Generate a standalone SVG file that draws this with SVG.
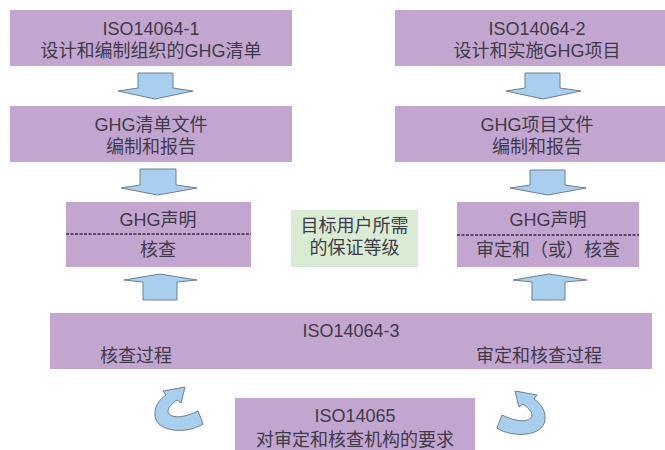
<svg xmlns="http://www.w3.org/2000/svg" width="665" height="450" viewBox="0 0 665 450">
<style>
.box{fill:#c2a6d0}
.green{fill:#d9ebd2}
.t{font-family:"Liberation Sans","Noto Sans CJK SC",sans-serif;font-size:18px;fill:#3f3a48;text-anchor:middle}
.arr{fill:#a9cfee;stroke:#6f7f8f;stroke-width:1;stroke-linejoin:round}
.dash{stroke:#3a2a44;stroke-width:1.5;stroke-dasharray:3,1.5}
</style>
<rect width="665" height="450" fill="#ffffff"/>
<g id="iso14064-1">
<rect class="box" x="10" y="10" width="282" height="56"/>
<text class="t" x="151" y="35">ISO14064-1</text>
<text class="t" x="151" y="57">设计和编制组织的GHG清单</text>
</g>
<g id="iso14064-2">
<rect class="box" x="395" y="10" width="280" height="56"/>
<text class="t" x="537" y="35">ISO14064-2</text>
<text class="t" x="537" y="57">设计和实施GHG项目</text>
</g>
<g id="ghg-inventory-doc">
<rect class="box" x="10" y="106" width="282" height="56"/>
<text class="t" x="151" y="131">GHG清单文件</text>
<text class="t" x="151" y="153">编制和报告</text>
</g>
<g id="ghg-project-doc">
<rect class="box" x="395" y="106" width="280" height="56"/>
<text class="t" x="537" y="131">GHG项目文件</text>
<text class="t" x="537" y="153">编制和报告</text>
</g>
<g id="ghg-statement-left">
<rect class="box" x="66" y="202" width="185" height="65"/>
<line class="dash" x1="66" y1="234" x2="251" y2="234"/>
<text class="t" x="158" y="226">GHG声明</text>
<text class="t" x="158" y="256">核查</text>
</g>
<g id="assurance-level">
<rect class="green" x="291" y="210" width="127" height="57"/>
<text class="t" x="354.5" y="232">目标用户所需</text>
<text class="t" x="354.5" y="254">的保证等级</text>
</g>
<g id="ghg-statement-right">
<rect class="box" x="457" y="202" width="182" height="65"/>
<line class="dash" x1="457" y1="235" x2="639" y2="235"/>
<text class="t" x="548" y="226">GHG声明</text>
<text class="t" x="548" y="256">审定和（或）核查</text>
</g>
<g id="iso14064-3">
<rect class="box" x="50" y="313" width="602" height="56"/>
<text class="t" x="351" y="337">ISO14064-3</text>
<text class="t" x="136" y="362">核查过程</text>
<text class="t" x="539" y="362">审定和核查过程</text>
</g>
<g id="iso14065">
<rect class="box" x="235" y="398" width="240" height="60"/>
<text class="t" x="355" y="422">ISO14065</text>
<text class="t" x="355" y="446">对审定和核查机构的要求</text>
</g>
<g id="connectors">
<path class="arr" d="M138 73 H173 V88 L193 91 L155 99 L118 91 L138 88 Z"/>
<path class="arr" d="M525 73 H560 V88 L581 91 L543 99 L506 91 L525 88 Z"/>
<path class="arr" d="M140 169 H176 V185 L197 188 L158 195 L121 188 L140 185 Z"/>
<path class="arr" d="M530 170 H565 V185 L586 188 L548 195 L510 188 L530 185 Z"/>
<path class="arr" d="M143 300 V282 L124 280 L160 274 L197 280 L177 282 V300 Z"/>
<path class="arr" d="M532 300 V282 L513 280 L549 274 L587 280 L565 282 V300 Z"/>
<path class="arr" d="M203 424 C188 434 157 433 155 416 C154 406 160 399 166 395 L163 391 L185 387 L181 403 L177 400 C170 405 166 410 169 414 C174 419 186 417 198 411 Z"/>
<path class="arr" transform="translate(700,4) scale(-1,1)" d="M203 424 C188 434 157 433 155 416 C154 406 160 399 166 395 L163 391 L185 387 L181 403 L177 400 C170 405 166 410 169 414 C174 419 186 417 198 411 Z"/>
</g>
</svg>
